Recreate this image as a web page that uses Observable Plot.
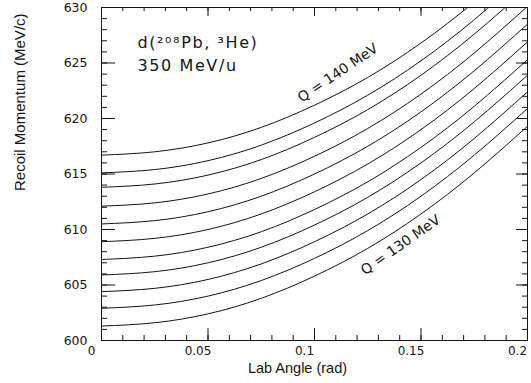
<!DOCTYPE html>
<html><head><meta charset="utf-8">
<script src="https://cdn.jsdelivr.net/npm/d3@7"></script>
<script src="https://cdn.jsdelivr.net/npm/@observablehq/plot@0.6"></script>
<style>body{margin:0;background:#fff}</style>
</head><body><div id="chart"></div>
<script>
// Lab angle sample points (rad)
const angles = [0, 0.025, 0.05, 0.075, 0.1, 0.125, 0.15, 0.175, 0.2];
// Recoil momentum (MeV/c) for each Q value
const q130 = [601.3, 601.6, 602.4, 603.8, 605.8, 608.3, 611.4, 615.1, 619.3];
const q131 = [602.9, 603.2, 604.0, 605.4, 607.4, 609.9, 613.0, 616.7, 620.9];
const q132 = [604.4, 604.7, 605.5, 606.9, 608.9, 611.4, 614.5, 618.2, 622.4];
const q133 = [605.9, 606.2, 607.0, 608.4, 610.4, 612.9, 616.0, 619.7, 623.9];
const q134 = [607.3, 607.6, 608.4, 609.8, 611.8, 614.3, 617.4, 621.1, 625.3];
const q135 = [608.9, 609.2, 610.0, 611.4, 613.4, 615.9, 619.0, 622.7, 626.9];
const q136 = [610.5, 610.8, 611.6, 613.0, 615.0, 617.5, 620.6, 624.3, 628.5];
const q137 = [612.1, 612.4, 613.2, 614.6, 616.6, 619.1, 622.2, 625.9, 630.1];
const q138 = [613.8, 614.1, 614.9, 616.3, 618.3, 620.8, 623.9, 627.6, 631.8];
const q139 = [615.1, 615.4, 616.2, 617.6, 619.6, 622.1, 625.2, 628.9, 633.1];
const q140 = [616.7, 617.0, 617.8, 619.2, 621.2, 623.7, 626.8, 630.5, 634.7];
const qValues = [130, 131, 132, 133, 134, 135, 136, 137, 138, 139, 140];

const xTicks = [0, 0.05, 0.1, 0.15, 0.2];
const xMinor = [0, 0.01, 0.02, 0.03, 0.04, 0.05, 0.06, 0.07, 0.08, 0.09, 0.1, 0.11, 0.12, 0.13, 0.14, 0.15, 0.16, 0.17, 0.18, 0.19, 0.2];
const yTicks = [600, 605, 610, 615, 620, 625, 630];
const yMinor = [600, 601, 602, 603, 604, 605, 606, 607, 608, 609, 610, 611, 612, 613, 614, 615, 616, 617, 618, 619, 620, 621, 622, 623, 624, 625, 626, 627, 628, 629, 630];

const curveLabels = ["Q = 140 MeV", "Q = 130 MeV"];
const reactionLines = ["d(\u00B2\u2070\u2078Pb, \u00B3He)", "350 MeV/u"];

const series = [q130, q131, q132, q133, q134, q135, q136, q137, q138, q139, q140];
const rows = series.flatMap((s, i) => s.map((p, j) => ({q: qValues[i], angle: angles[j], p})));

const W = 531, H = 383, mL = 101, mR = 4, mT = 7, mB = 43;
const iw = W - mL - mR, ih = H - mT - mB;
const ink = "#151515";

const chart = Plot.plot({
  width: W, height: H,
  marginLeft: mL, marginRight: mR, marginTop: mT, marginBottom: mB,
  style: {fontFamily: "DejaVu Sans", fontSize: "12px", color: ink, background: "#fff"},
  x: {domain: [0, 0.2]},
  y: {domain: [600, 630]},
  marks: [
    Plot.frame({stroke: ink, strokeWidth: 1}),
    // inward ticks: bottom
    Plot.ruleX(xMinor, {x: d => d, insetTop: ih - 5, stroke: ink}),
    Plot.ruleX(xTicks, {x: d => d, insetTop: ih - 12, stroke: ink}),
    // top
    Plot.ruleX(xMinor, {x: d => d, insetBottom: ih - 4, stroke: ink}),
    Plot.ruleX(xTicks, {x: d => d, insetBottom: ih - 9, stroke: ink}),
    // left
    Plot.ruleY(yMinor, {y: d => d, insetRight: iw - 6, stroke: ink}),
    Plot.ruleY(yTicks, {y: d => d, insetRight: iw - 14, stroke: ink}),
    // right
    Plot.ruleY(yMinor, {y: d => d, insetLeft: iw - 5, stroke: ink}),
    Plot.ruleY(yTicks, {y: d => d, insetLeft: iw - 11, stroke: ink}),
    Plot.axisX({ticks: xTicks, tickFormat: d => String(d), tickSize: 0, tickPadding: 6, label: null, dx: -10}),
    Plot.axisY({ticks: yTicks, tickSize: 0, tickPadding: 14, label: null, fontSize: 12.5}),
    Plot.line(rows, {x: "angle", y: "p", z: "q", curve: "natural", clip: true, stroke: ink, strokeWidth: 1}),
    Plot.text([curveLabels[0]], {x: () => 0.111, y: () => 624.1, text: d => d, rotate: -34, fontSize: 14, fill: ink}),
    Plot.text([curveLabels[1]], {x: () => 0.1404, y: () => 608.6, text: d => d, rotate: -35, fontSize: 14, fill: ink}),
    Plot.text([reactionLines[0]], {x: () => 0.0169, y: () => 626.8, text: d => d, textAnchor: "start", fontSize: 16, fill: ink}),
    Plot.text([reactionLines[1]], {x: () => 0.0169, y: () => 624.7, text: d => d, textAnchor: "start", fontSize: 16, fill: ink}),
    Plot.text(["Lab Angle (rad)"], {frameAnchor: "bottom", dy: 32, dx: -17, text: d => d, fontFamily: "Liberation Sans", fontSize: 14.5, fill: ink}),
    Plot.text(["Recoil Momentum (MeV/c)"], {frameAnchor: "left", dx: -81, dy: 17, rotate: -90, text: d => d, fontFamily: "Liberation Sans", fontSize: 15, fill: ink})
  ]
});
d3.select(chart).selectAll("text").filter(function() { return /MeV\/u|Pb/.test(this.textContent); }).attr("letter-spacing", "1.6");
document.getElementById("chart").appendChild(chart);
</script>
</body></html>
